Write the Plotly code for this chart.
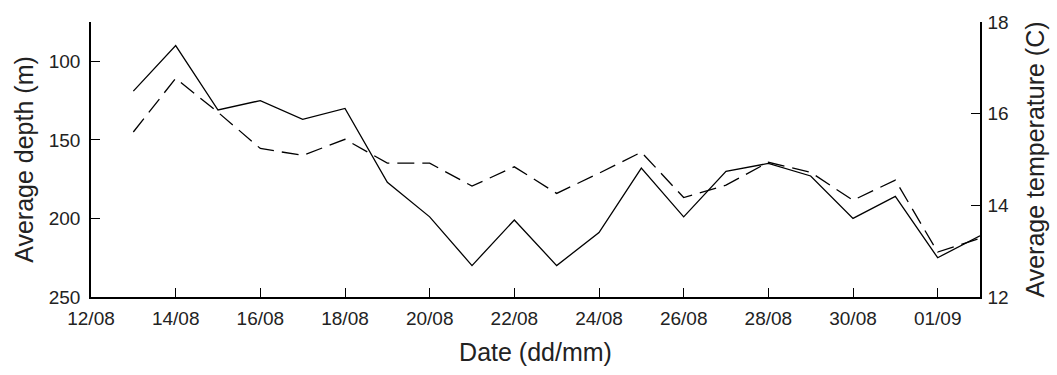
import plotly.graph_objects as go

dates = ["2009-08-13", "2009-08-14", "2009-08-15", "2009-08-16", "2009-08-17", "2009-08-18",
         "2009-08-19", "2009-08-20", "2009-08-21", "2009-08-22", "2009-08-23", "2009-08-24",
         "2009-08-25", "2009-08-26", "2009-08-27", "2009-08-28", "2009-08-29", "2009-08-30",
         "2009-08-31", "2009-09-01", "2009-09-02"]
depth = [119, 90, 131, 125, 137, 130, 177, 199, 230, 201, 230, 209,
         168, 199, 170, 165, 173, 200, 186, 225, 211]
temperature = [15.6, 16.77, 16.03, 15.24, 15.09, 15.44, 14.92, 14.92, 14.42, 14.84, 14.26, 14.70,
               15.16, 14.17, 14.44, 14.94, 14.72, 14.11, 14.55, 12.98, 13.28]

x_tick_vals = ["2009-08-12", "2009-08-14", "2009-08-16", "2009-08-18", "2009-08-20", "2009-08-22",
               "2009-08-24", "2009-08-26", "2009-08-28", "2009-08-30", "2009-09-01"]
x_tick_text = ["12/08", "14/08", "16/08", "18/08", "20/08", "22/08",
               "24/08", "26/08", "28/08", "30/08", "01/09"]
depth_ticks = [100, 150, 200, 250]
temp_ticks = [12, 14, 16, 18]

FONT = "Liberation Sans, Arial, sans-serif"
TXT = "#222222"

fig = go.Figure()
fig.add_trace(go.Scatter(x=dates, y=depth, mode="lines", yaxis="y",
                         line=dict(color="black", width=1.3), showlegend=False))
fig.add_trace(go.Scatter(x=dates, y=temperature, mode="lines", yaxis="y2",
                         line=dict(color="black", width=1.3, dash="17px,8px"), showlegend=False))

def axis_common(standoff):
    return dict(showgrid=False, zeroline=False, showline=True, linecolor="black", linewidth=1.5,
                ticks="inside", ticklen=9, tickwidth=1.3, tickcolor="black",
                ticklabelstandoff=standoff,
                tickfont=dict(family=FONT, size=19, color=TXT))

fig.update_layout(
    width=1057, height=375,
    margin=dict(l=91, r=75, t=21, b=78),
    paper_bgcolor="white", plot_bgcolor="white",
    xaxis=dict(type="date", range=["2009-08-12", "2009-09-02"],
               tickvals=x_tick_vals, ticktext=x_tick_text,
               title=dict(text="Date (dd/mm)", font=dict(family=FONT, size=25, color=TXT), standoff=16),
               **axis_common(3)),
    yaxis=dict(range=[250, 75], tickvals=depth_ticks,
               title=dict(text="Average depth (m)", font=dict(family=FONT, size=25, color=TXT), standoff=8),
               **axis_common(5)),
    yaxis2=dict(range=[12, 18], tickvals=temp_ticks, overlaying="y", side="right",
                title=dict(text="Average temperature (C)", font=dict(family=FONT, size=25, color=TXT), standoff=18),
                **axis_common(2)),
)

fig.write_html("out.html")
